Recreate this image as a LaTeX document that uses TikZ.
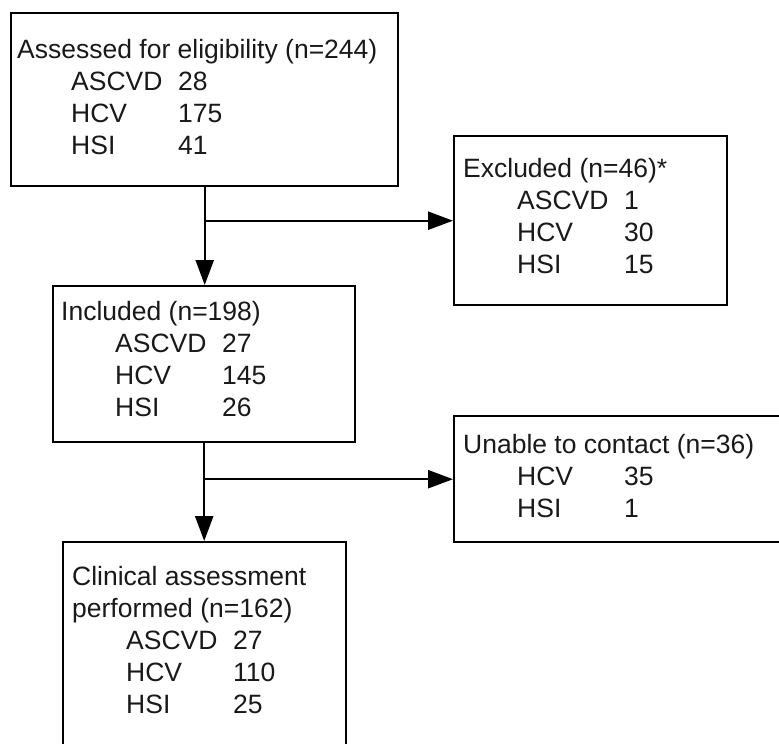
\documentclass[tikz,border=0pt]{standalone}
\usepackage{fontspec}
\setmainfont{Liberation Sans}
\usetikzlibrary{arrows.meta}
\newcommand{\flrow}[2]{\hspace*{54pt}\makebox[107pt][l]{#1}#2}
\tikzset{
  flbox/.style={draw=black, line width=2.4pt, rectangle, anchor=north west, inner sep=0pt},
  fltxt/.style={anchor=base west, inner sep=0pt, font=\fontsize{26.5}{32}\selectfont, text=black!90},
  flarr/.style={draw=black, line width=2.4pt, -{Triangle[length=25pt,width=18pt]}}
}
\begin{document}
\begin{tikzpicture}[x=1pt,y=-1pt]
\useasboundingbox (0,0) rectangle (779,744);
\fill[white] (0,0) rectangle (779,744);
\clip (0,0) rectangle (779,744);
% boxes
\node[flbox, minimum width=387pt, minimum height=173pt] (b1) at (10,12) {};
\node[flbox, minimum width=273pt, minimum height=169pt] (b2) at (453,135) {};
\node[flbox, minimum width=302pt, minimum height=156pt] (b3) at (52,285) {};
\node[flbox, minimum width=360pt, minimum height=126pt] (b4) at (453,415) {};
\node[flbox, minimum width=283pt, minimum height=240pt] (b5) at (62,541) {};
% texts
\node[fltxt] (t1) at (17,58) {\begin{tabular}[t]{@{}l@{}}Assessed for eligibility (n=244)\\ \flrow{ASCVD}{28}\\ \flrow{HCV}{175}\\ \flrow{HSI}{41}\end{tabular}};
\node[fltxt] (t2) at (463,177) {\begin{tabular}[t]{@{}l@{}}Excluded (n=46)*\\ \flrow{ASCVD}{1}\\ \flrow{HCV}{30}\\ \flrow{HSI}{15}\end{tabular}};
\node[fltxt] (t3) at (61,320) {\begin{tabular}[t]{@{}l@{}}Included (n=198)\\ \flrow{ASCVD}{27}\\ \flrow{HCV}{145}\\ \flrow{HSI}{26}\end{tabular}};
\node[fltxt] (t4) at (463,453) {\begin{tabular}[t]{@{}l@{}}Unable to contact (n=36)\\ \flrow{HCV}{35}\\ \flrow{HSI}{1}\end{tabular}};
\node[fltxt] (t5) at (72,585) {\begin{tabular}[t]{@{}l@{}}Clinical assessment\\ performed (n=162)\\ \flrow{ASCVD}{27}\\ \flrow{HCV}{110}\\ \flrow{HSI}{25}\end{tabular}};
% connectors
\draw[flarr] (b1.south) -- (b1.south |- b3.north);
\draw[flarr] (b1.south |- b2.west) -- (b2.west);
\draw[flarr] (b3.south) -- (b3.south |- b5.north);
\draw[flarr] (b3.south |- b4.west) -- (b4.west);
\end{tikzpicture}
\end{document}
